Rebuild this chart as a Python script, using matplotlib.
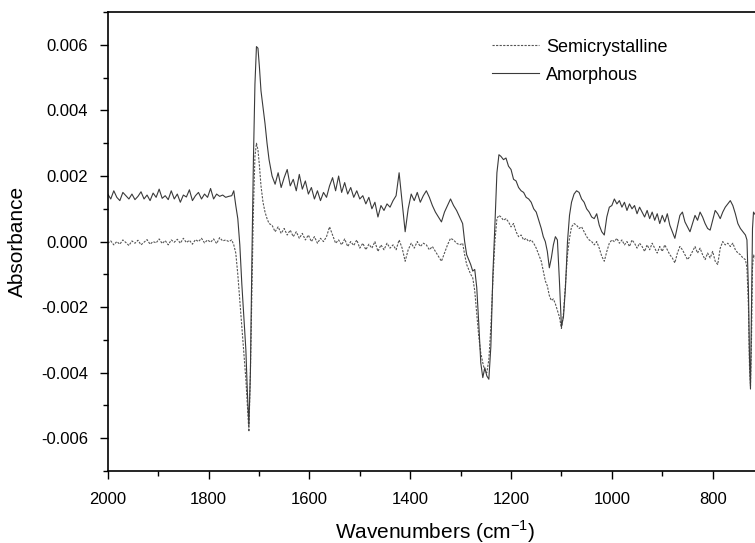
import matplotlib
matplotlib.use("Agg")
import matplotlib.pyplot as plt
import numpy as np
from matplotlib.ticker import MultipleLocator, FormatStrFormatter

plt.rcParams['font.family'] = ['Liberation Sans', 'DejaVu Sans']
plt.rcParams['axes.unicode_minus'] = False

### --->>> WAVENUMBERS (cm-1)
wn_flat = [2000, 1994, 1988, 1982, 1976, 1970, 1964, 1958, 1952, 1946, 1940,
           1934, 1928, 1922, 1916, 1910, 1904, 1898, 1892, 1886, 1880, 1874,
           1868, 1862, 1856, 1850, 1844, 1838, 1832, 1826, 1820, 1814, 1808,
           1802, 1796, 1790, 1784, 1778, 1772, 1766, 1760]
wn_co = [1754, 1750, 1746, 1742, 1738, 1734, 1730, 1726, 1723, 1720, 1717,
         1714, 1711, 1708, 1705, 1702, 1699, 1696, 1692, 1688, 1684, 1680]
wn_mid = [1674, 1668, 1662, 1656, 1650, 1644, 1638, 1632, 1626, 1620, 1614,
          1608, 1602, 1596, 1590, 1584, 1578, 1572, 1566, 1560, 1554, 1548,
          1542, 1536, 1530, 1524, 1518, 1512, 1506, 1500, 1494, 1488, 1482,
          1476, 1470, 1464, 1458, 1452, 1446, 1440, 1434, 1428, 1422, 1416,
          1410, 1404, 1398, 1392, 1386, 1380, 1374, 1368, 1362, 1356, 1350,
          1344, 1338, 1332, 1326, 1320, 1314, 1308, 1302]
wn_fp = [1296, 1292, 1288, 1284, 1280, 1276, 1272, 1268, 1264, 1260, 1256,
         1252, 1248, 1244, 1240, 1236, 1232, 1228, 1224, 1220, 1215, 1210,
         1205, 1200, 1195, 1190, 1185, 1180, 1175, 1170, 1165, 1160, 1155,
         1150, 1145, 1140, 1136, 1132, 1128, 1124, 1120, 1116, 1112, 1108,
         1104, 1100, 1096, 1092, 1088, 1084, 1080, 1075, 1070, 1065, 1060,
         1055, 1050, 1045, 1040]
wn_low = [1035, 1030, 1025, 1020, 1015, 1010, 1005, 1000, 995, 990, 985,
          980, 975, 970, 965, 960, 955, 950, 945, 940, 935, 930, 925, 920,
          915, 910, 905, 900, 895, 890, 885, 880, 875, 870, 865, 860, 855,
          850, 845, 840, 835, 830, 825, 820, 815, 810, 805, 800, 795, 790,
          785, 780, 775, 770, 765, 760, 755, 750, 745, 740, 735, 732, 729,
          727, 725, 723, 721, 719, 717, 714]

### --->>> AMORPHOUS (x 0.001)
amorf_flat = [1.45, 1.30, 1.55, 1.35, 1.25, 1.50, 1.40, 1.30, 1.45, 1.28, 1.38,
              1.52, 1.30, 1.42, 1.25, 1.48, 1.35, 1.60, 1.32, 1.40, 1.28, 1.55,
              1.30, 1.45, 1.20, 1.42, 1.36, 1.58, 1.25, 1.40, 1.50, 1.30, 1.45,
              1.35, 1.62, 1.30, 1.45, 1.38, 1.42, 1.35, 1.38]
amorf_co = [1.40, 1.55, 1.10, 0.70, -0.10, -1.30, -2.30, -3.30, -4.60, -5.60,
            -4.00, -0.50, 2.50, 4.80, 5.95, 5.90, 5.30, 4.60, 4.10, 3.60, 3.00, 2.50]
amorf_mid = [2.00, 1.75, 2.10, 1.65, 1.95, 2.20, 1.70, 1.90, 1.55, 2.05, 1.60,
             1.85, 1.45, 1.65, 1.30, 1.55, 1.25, 1.50, 1.35, 1.70, 1.95, 1.55,
             2.00, 1.50, 1.80, 1.45, 1.65, 1.35, 1.55, 1.30, 1.40, 1.15, 1.35,
             1.00, 1.20, 0.75, 1.10, 0.95, 1.15, 1.05, 1.25, 1.40, 2.10, 1.20,
             0.30, 1.00, 1.45, 1.25, 1.50, 1.20, 1.40, 1.55, 1.35, 1.10, 0.90,
             0.75, 0.60, 0.90, 1.10, 1.30, 1.10, 0.95, 0.75]
amorf_fp = [0.55, 0.00, -0.40, -0.55, -0.70, -0.90, -0.85, -1.40, -2.50, -3.70,
            -4.15, -3.85, -4.10, -4.20, -3.20, -1.00, 0.50, 2.10, 2.65, 2.60,
            2.50, 2.55, 2.30, 2.20, 1.90, 1.85, 1.65, 1.55, 1.50, 1.35, 1.30,
            1.20, 1.00, 0.90, 0.65, 0.40, 0.15, 0.00, -0.30, -0.80, -0.50,
            -0.10, 0.15, 0.05, -1.20, -2.60, -2.30, -1.40, 0.00, 0.80, 1.20,
            1.45, 1.55, 1.50, 1.30, 1.20, 1.00, 0.90, 0.75]
amorf_low = [0.70, 0.85, 0.50, 0.30, 0.20, 0.75, 1.05, 1.10, 1.30, 1.15, 1.25,
             1.05, 1.20, 0.95, 1.15, 1.00, 1.10, 0.85, 1.05, 0.90, 0.75, 0.95,
             0.70, 0.90, 0.65, 0.85, 0.55, 0.80, 0.60, 0.85, 0.50, 0.30, 0.10,
             0.45, 0.80, 0.90, 0.60, 0.45, 0.30, 0.55, 0.80, 0.65, 0.90, 0.75,
             0.55, 0.40, 0.35, 0.65, 0.95, 0.85, 0.70, 0.90, 1.05, 1.15, 1.25,
             1.10, 0.85, 0.55, 0.40, 0.30, 0.20, 0.05, -1.50, -3.50, -4.50,
             -2.00, 0.40, 0.90, 0.85, 0.80]

### --->>> SEMICRYSTALLINE (x 0.001)
semi_flat = [-0.05, 0.02, -0.10, 0.00, -0.08, 0.05, -0.03, -0.12, 0.02, -0.05,
             0.04, -0.10, -0.02, 0.06, -0.08, 0.00, -0.04, 0.08, -0.06, 0.03,
             -0.10, 0.05, -0.02, 0.07, -0.05, 0.10, -0.03, 0.04, -0.08, 0.06,
             0.00, 0.10, -0.04, 0.05, -0.02, 0.08, -0.06, 0.12, 0.02, 0.05, 0.00]
semi_co = [0.05, -0.10, -0.35, -1.00, -1.80, -2.60, -3.40, -4.20, -5.00, -5.80,
           -4.00, -1.50, 1.00, 2.60, 3.00, 2.80, 2.30, 1.70, 1.20, 0.90, 0.70, 0.55]
semi_mid = [0.50, 0.30, 0.45, 0.25, 0.40, 0.20, 0.35, 0.15, 0.30, 0.10, 0.25,
            0.05, 0.20, 0.00, 0.15, -0.05, 0.10, 0.00, 0.15, 0.45, 0.20, -0.05,
            0.05, -0.10, 0.08, -0.15, 0.00, -0.12, 0.05, -0.20, -0.05, -0.25,
            -0.08, -0.20, 0.00, -0.30, -0.10, -0.25, -0.05, -0.20, -0.10, -0.25,
            0.05, -0.20, -0.60, -0.25, -0.05, -0.20, 0.00, -0.15, -0.05, -0.10,
            -0.25, -0.15, -0.30, -0.45, -0.60, -0.35, -0.10, 0.10, 0.05, -0.05,
            -0.10]
semi_fp = [-0.05, -0.40, -0.70, -0.85, -1.00, -1.10, -1.50, -2.20, -2.90, -3.40,
           -3.70, -3.95, -4.00, -3.60, -2.60, -1.20, 0.00, 0.70, 0.80, 0.75,
           0.65, 0.70, 0.60, 0.45, 0.55, 0.30, 0.15, 0.20, 0.05, 0.10, 0.00,
           0.05, -0.05, -0.20, -0.40, -0.60, -0.90, -1.20, -1.35, -1.65, -1.80,
           -1.75, -1.90, -2.10, -2.30, -2.65, -2.20, -1.30, -0.40, 0.10, 0.45,
           0.55, 0.50, 0.40, 0.45, 0.30, 0.15, 0.05, 0.00]
semi_low = [-0.10, 0.00, -0.20, -0.45, -0.60, -0.30, -0.05, 0.05, 0.00, 0.10,
            -0.05, 0.05, -0.10, 0.00, -0.15, 0.05, -0.05, -0.20, -0.05, -0.15,
            -0.30, -0.10, -0.25, -0.05, -0.20, -0.35, -0.15, -0.30, -0.10, -0.25,
            -0.40, -0.50, -0.65, -0.35, -0.15, -0.25, -0.40, -0.55, -0.45, -0.30,
            -0.15, -0.35, -0.20, -0.40, -0.55, -0.35, -0.50, -0.30, -0.60, -0.70,
            -0.20, 0.00, -0.10, -0.05, -0.15, -0.05, -0.25, -0.35, -0.40, -0.50,
            -0.55, -0.80, -2.00, -3.80, -4.40, -3.00, -0.80, -0.40, -0.50, -0.50]

wn = np.array(wn_flat + wn_co + wn_mid + wn_fp + wn_low)
amorfo = np.array(amorf_flat + amorf_co + amorf_mid + amorf_fp + amorf_low) * 1e-3
semi = np.array(semi_flat + semi_co + semi_mid + semi_fp + semi_low) * 1e-3

### --->>> GRAFICO
fig = plt.figure(figsize=(7.55, 5.43), dpi=100)
ax = fig.add_axes([0.1427, 0.1326, 0.868, 0.845])

ax.plot(wn, semi, color='#555555', lw=0.8, dashes=(2.0, 1.2), label='Semicrystalline')
ax.plot(wn, amorfo, color='#3a3a3a', lw=0.8, label='Amorphous')

ax.set_xlim(2000, 700)
ax.set_ylim(-0.007, 0.007)

ax.xaxis.set_major_locator(MultipleLocator(200))
ax.xaxis.set_minor_locator(MultipleLocator(100))
ax.yaxis.set_major_locator(MultipleLocator(0.002))
ax.yaxis.set_minor_locator(MultipleLocator(0.001))
ax.yaxis.set_major_formatter(FormatStrFormatter('%.3f'))

ax.tick_params(which='major', direction='out', length=6, width=1, labelsize=12)
ax.tick_params(axis='x', which='major', pad=9)
ax.tick_params(axis='y', which='major', pad=8)
ax.tick_params(which='minor', direction='out', length=3.5, width=1)
ax.tick_params(top=False, right=False)
for side in ['left', 'bottom', 'top']:
    ax.spines[side].set_linewidth(1.2)
ax.spines['right'].set_visible(False)

ax.set_xlabel('Wavenumbers (cm$^{\\mathregular{-1}}$)', fontsize=15, labelpad=8)
ax.set_ylabel('Absorbance', fontsize=15, labelpad=10)

ax.legend(loc='upper left', bbox_to_anchor=(0.562, 0.978), frameon=False,
          fontsize=13, handlelength=2.6, handletextpad=0.4, labelspacing=0.62)

fig.savefig('out.png', dpi=100)
